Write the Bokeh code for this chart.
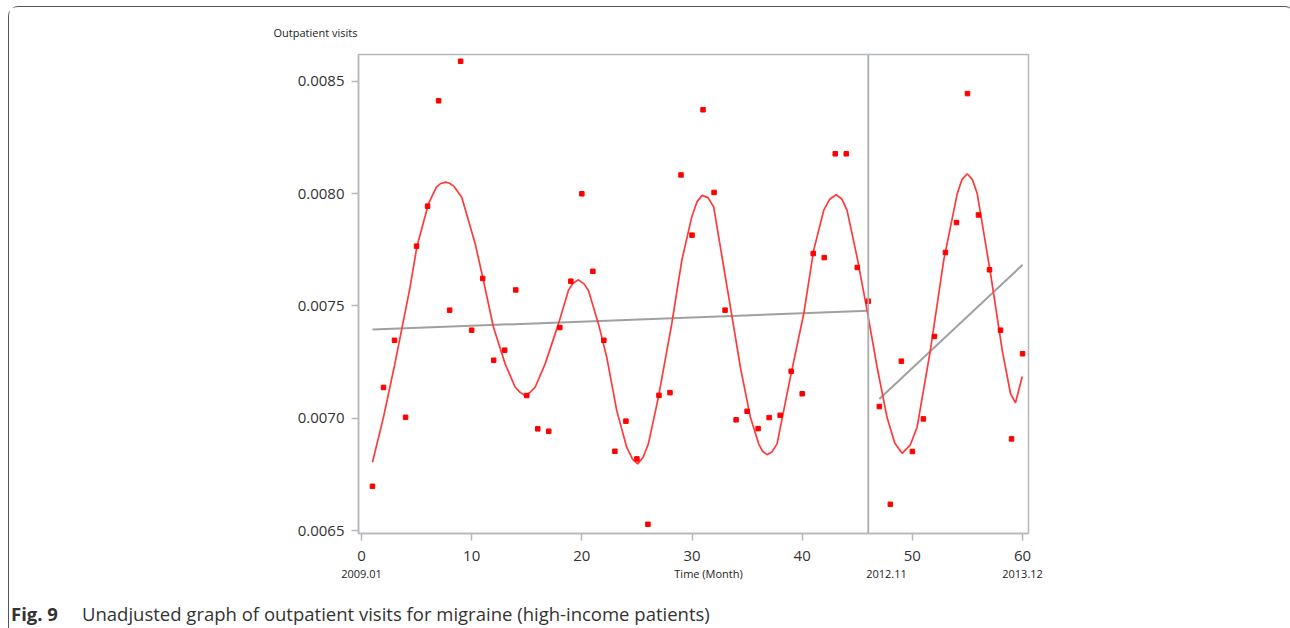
from bokeh.plotting import figure
from bokeh.models import Span, FixedTicker, Range1d, LinearAxis, Div
from bokeh.layouts import column
from bokeh.embed import file_html
from bokeh.resources import INLINE

# ---- data ----
months = list(range(1, 61))
visits = [0.006697, 0.007137, 0.007347, 0.007004, 0.007766, 0.007944, 0.008413, 0.007481, 0.008589, 0.007392,
          0.007622, 0.007258, 0.007303, 0.007571, 0.007101, 0.006953, 0.006942, 0.007404, 0.007610, 0.007999,
          0.007654, 0.007347, 0.006853, 0.006987, 0.006819, 0.006528, 0.007102, 0.007114, 0.008083, 0.007815,
          0.008373, 0.008005, 0.007481, 0.006993, 0.007031, 0.006954, 0.007003, 0.007013, 0.007209, 0.007109,
          0.007733, 0.007715, 0.008177, 0.008177, 0.007671, 0.007521, 0.007052, 0.006617, 0.007254, 0.006852,
          0.006997, 0.007364, 0.007738, 0.007871, 0.008445, 0.007905, 0.007661, 0.007392, 0.006908, 0.007287]

# fitted (smoothed) curve
curve_month = [1.0, 2.0, 3.0, 3.66, 4.4, 5.02, 6.08, 6.8, 7.2, 7.65, 8.0, 8.4, 9.10, 10.32, 11.07, 11.98, 13.04,
               13.95, 14.4, 14.85, 15.3, 15.76, 16.67, 17.88, 18.78, 19.2, 19.69, 20.2, 20.60, 21.51, 22.26,
               23.17, 24.07, 24.6, 25.07, 25.55, 26.04, 26.95, 28.16, 29.07, 29.97, 30.45, 30.92, 31.45, 31.97,
               32.88, 33.64, 34.39, 35.30, 36.05, 36.4, 36.81, 37.25, 37.72, 38.93, 40.14, 41.04, 41.95, 42.5,
               43.08, 43.6, 44.07, 44.98, 45.89, 46.80, 47.70, 48.4, 49.06, 49.8, 50.43, 51.63, 52.84, 54.07,
               54.5, 54.98, 55.45, 55.89, 57.10, 58.16, 58.91, 59.36, 59.97]
curve_value = [0.006804, 0.007005, 0.007235, 0.007398, 0.007580, 0.007761, 0.007955, 0.008029, 0.008045, 0.008051,
               0.008046, 0.008032, 0.007984, 0.007777, 0.007613, 0.007405, 0.007242,
               0.007138, 0.007115, 0.007101, 0.007115, 0.007138, 0.007242, 0.007420, 0.007569, 0.007601,
               0.007616, 0.007598, 0.007569, 0.007420, 0.007272,
               0.007034, 0.006871, 0.006818, 0.006797, 0.006825, 0.006886, 0.007094, 0.007420, 0.007702,
               0.007895, 0.007963, 0.007992, 0.007982, 0.007940,
               0.007672, 0.007450, 0.007227, 0.007004, 0.006886, 0.006853, 0.006838, 0.006850, 0.006886,
               0.007183, 0.007465, 0.007747, 0.007925, 0.007975,
               0.007995, 0.007976, 0.007925, 0.007717, 0.007480, 0.007227, 0.007004, 0.006890, 0.006844,
               0.006880, 0.006960, 0.007301, 0.007702, 0.007999,
               0.008062, 0.008088, 0.008062, 0.007999, 0.007643, 0.007301, 0.007109, 0.007069, 0.007186]

# segmented linear trends
trend_pre_month = [1, 46]
trend_pre_value = [0.007395, 0.007478]
trend_post_month = [47, 60]
trend_post_value = [0.007086, 0.007683]

intervention_month = 46

x_ticks = [0, 10, 20, 30, 40, 50, 60]
y_ticks = [0.0065, 0.0070, 0.0075, 0.0080, 0.0085]
y_tick_labels = ["0.0065", "0.0070", "0.0075", "0.0080", "0.0085"]

# secondary labels under the time axis (right edge at the given month)
date_ticks = [0, 31.5, 47.65, 60]
date_labels = ["2009.01", "Time (Month)", "2012.11", "2013.12"]

y_title = "Outpatient  visits"
caption_bold = "Fig. 9"
caption_text = "Unadjusted graph of outpatient visits for migraine (high-income patients)"

FRAME = "#b4b8bc"
FONT = "Open Sans"

p = figure(width=1275, height=590, output_backend="svg", toolbar_location=None,
           x_range=Range1d(-0.27, 60.54), y_range=Range1d(0.006487, 0.008619),
           min_border_left=349, min_border_right=256, min_border_top=47, min_border_bottom=64)

p.grid.visible = False
p.outline_line_color = FRAME
p.outline_line_width = 1.5

# title used as the y-axis caption at the top-left
p.title.text = y_title
p.title.align = "left"
p.title.offset = -85
p.title.standoff = 29
p.title.text_font = FONT
p.title.text_font_size = "11px"
p.title.text_font_style = "normal"
p.title.text_color = "#222222"

xa = p.xaxis[0]
ya = p.yaxis[0]
for ax in (xa, ya):
    ax.axis_line_color = FRAME
    ax.axis_line_width = 1.5
    ax.major_tick_line_color = FRAME
    ax.major_tick_line_width = 1.5
    ax.major_tick_out = 7
    ax.major_tick_in = 0
    ax.minor_tick_line_color = None
    ax.major_label_text_font = FONT
    ax.major_label_text_font_size = "15px"
    ax.major_label_text_color = "#333333"

xa.ticker = FixedTicker(ticks=x_ticks)
ya.ticker = FixedTicker(ticks=y_ticks)
ya.major_label_overrides = {t: l for t, l in zip(y_ticks, y_tick_labels)}
xa.major_label_standoff = 10
ya.major_label_standoff = 7

date_axis = LinearAxis(ticker=FixedTicker(ticks=date_ticks),
                       major_label_overrides={t: l for t, l in zip(date_ticks, date_labels)},
                       axis_line_color=None, major_tick_line_color=None, minor_tick_line_color=None,
                       major_tick_out=0, major_tick_in=0, major_label_standoff=2,
                       major_label_text_font=FONT, major_label_text_font_size="11px",
                       major_label_text_align="right", major_label_text_color="#222222")
p.add_layout(date_axis, "below")

# vertical intervention line
p.add_layout(Span(location=intervention_month, dimension="height", line_color="#a9adb1", line_width=1.8))

# trends
p.line(trend_pre_month, trend_pre_value, line_color="#a0a0a0", line_width=2)
p.line(trend_post_month, trend_post_value, line_color="#a0a0a0", line_width=2)

# fitted curve
p.line(curve_month, curve_value, line_color="#ff3a3a", line_width=1.7)

# observed points
p.scatter(months, visits, marker="square", size=4.5, color="#ff0000")

# caption
cap = Div(text=('<span style="display:inline-block;width:71px;margin-left:-3px;font-weight:bold;'
                'font-size:18.5px">' + caption_bold + '</span><span>' + caption_text + '</span>'),
          width=1275, height=29,
          styles={"font-family": "'Open Sans', sans-serif", "font-size": "18.5px", "color": "#333333",
                  "padding-left": "0px", "padding-top": "0px", "line-height": "24px",
                  "white-space": "nowrap"})

page = column(p, cap, spacing=0)
page.styles = {"margin-left": "8px", "margin-top": "6px", "border": "1px solid #555555",
               "border-radius": "10px"}

open("out.html", "w").write(file_html(page, INLINE))
